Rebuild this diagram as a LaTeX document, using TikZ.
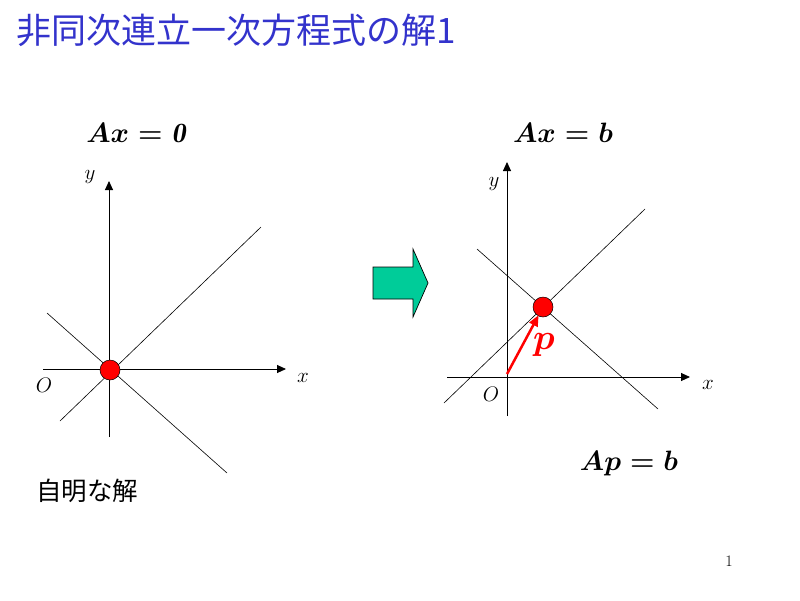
\RequirePackage{fix-cm}
\documentclass[tikz,border=0pt]{standalone}
\usepackage{fontspec}
\newfontfamily\cjk{Noto Sans CJK JP}
\usetikzlibrary{arrows.meta}
\definecolor{titleblue}{HTML}{3333CC}
\definecolor{arrowgreen}{HTML}{00CC99}
\begin{document}
\begin{tikzpicture}[x=1pt,y=-1pt,
  axis/.style={line width=0.9pt,-{Triangle[length=9pt,width=8pt]}},
  thinline/.style={line width=0.6pt},
  dot/.style={circle,fill=red,draw=black,line width=0.5pt,minimum size=20pt,inner sep=0pt},
  lab/.style={font=\fontsize{21}{24}\selectfont,inner sep=0pt},
  eq/.style={font=\fontsize{28}{32}\selectfont\boldmath,inner sep=0pt},
  vec/.style={draw=red,line width=2.5pt,shorten >=-1pt,-{Triangle[length=11pt,width=9pt]}}]
\useasboundingbox (0,0) rectangle (800,600);
\fill[white] (0,0) rectangle (800,600);

\node[anchor=west,text=titleblue,font=\cjk\fontsize{35}{40}\selectfont,inner sep=0pt] (title) at (16,30) {非同次連立一次方程式の解1};

% left plot
\coordinate (lxs) at (43,369); \coordinate (lxe) at (286,369);
\coordinate (lys) at (109,437); \coordinate (lye) at (109,181);
\coordinate (la1) at (60,421); \coordinate (la2) at (261,227);
\coordinate (lb1) at (47,313); \coordinate (lb2) at (227,473);
\draw[axis] (lxs) -- (lxe);
\draw[axis] (lys) -- (lye);
\draw[thinline] (la1) -- (la2);
\draw[thinline] (lb1) -- (lb2);
\node[dot] (ldot) at (110,370) {};
\node[lab] (ly) at (90,177) {$y$};
\node[lab] (lx) at (303,378) {$x$};
\node[lab] (lo) at (44,385) {$O$};
\node[eq] (leq) at (136,133) {$Ax=\mathit{0}$};
\node[anchor=west,font=\cjk\fontsize{25.5}{28}\selectfont,inner sep=0pt] (trivial) at (36,491) {自明な解};

% green arrow
\draw[fill=arrowgreen,draw=black,line width=0.7pt]
  (373,267) -- (413,267) -- (413,249) -- (428,283) -- (413,317) -- (413,299) -- (373,299) -- cycle;

% right plot
\coordinate (rxs) at (447,377); \coordinate (rxe) at (690,377);
\coordinate (rys) at (507,416); \coordinate (rye) at (507,162);
\coordinate (ra1) at (444,403); \coordinate (ra2) at (645,209);
\coordinate (rb1) at (477,249); \coordinate (rb2) at (658,409);
\coordinate (ro) at (507,374);
\draw[axis] (rxs) -- (rxe);
\draw[axis] (rys) -- (rye);
\draw[thinline] (ra1) -- (ra2);
\draw[thinline] (rb1) -- (rb2);
\node[dot] (rdot) at (543,307) {};
\draw[vec] (ro) -- (rdot);
\node[lab] (ry) at (494,184) {$y$};
\node[lab] (rx) at (708,385) {$x$};
\node[lab] (rol) at (491,394) {$O$};
\node[font=\fontsize{36}{40}\selectfont\boldmath,text=red,inner sep=0pt] (plab) at (544,345) {$p$};
\node[eq] (req) at (563,133) {$Ax=b$};
\node[eq] (peq) at (629,463) {$Ap=b$};

\node[font=\fontsize{16}{18}\selectfont,inner sep=0pt] (page) at (729,561) {1};
\end{tikzpicture}
\end{document}
